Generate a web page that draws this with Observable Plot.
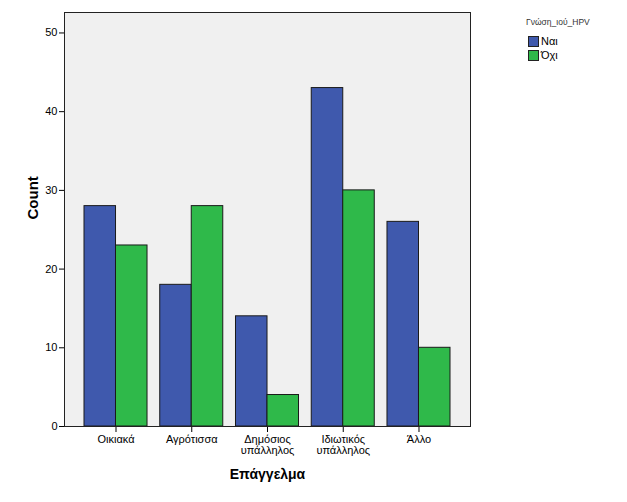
<!DOCTYPE html>
<html>
<head>
<meta charset="utf-8">
<script src="https://cdn.jsdelivr.net/npm/d3@7"></script>
<script src="https://cdn.jsdelivr.net/npm/@observablehq/plot@0.6"></script>
<style>
  body { margin: 0; background: #fff; font-family: "Liberation Sans", Arial, sans-serif; }
  #wrap { position: relative; width: 627px; height: 502px; }
  #legend { position: absolute; left: 527px; top: 17px; font-family: "Liberation Sans", Arial, sans-serif; }
  #legend .title { font-size: 8.5px; color: #333; margin-bottom: 7px; margin-left: -1px; }
  #legend .item { display: flex; align-items: center; font-size: 11px; color: #000; height: 14px; margin-left: 1px; }
  #legend .sw { width: 9px; height: 9px; border: 1px solid #222; margin-right: 2px; }
</style>
</head>
<body>
<div id="wrap"><div id="chart"></div><div id="legend"></div></div>
<script>
const categories = ["Οικιακά", "Αγρότισσα", "Δημόσιος\nυπάλληλος", "Ιδιωτικός\nυπάλληλος", "Άλλο"];
const series = ["Ναι", "Όχι"];
const valuesNai = [28, 18, 14, 43, 26];
const valuesOxi = [23, 28, 4, 30, 10];
const yTicks = [0, 10, 20, 30, 40, 50];
const colors = ["#3f59ad", "#2fb94a"];
const legendTitle = "Γνώση_ιού_HPV";
const xTitle = "Επάγγελμα";
const yTitle = "Count";

const data = [];
categories.forEach((c, i) => {
  data.push({cat: c, ans: series[0], count: valuesNai[i]});
  data.push({cat: c, ans: series[1], count: valuesOxi[i]});
});

const chart = Plot.plot({
  width: 627,
  height: 502,
  marginLeft: 64,
  marginRight: 157,
  marginTop: 12,
  marginBottom: 76,
  style: {fontFamily: "Liberation Sans, Arial, sans-serif", fontSize: "11px", background: "#fff", color: "#000"},
  x: {domain: categories, paddingInner: 0.168, paddingOuter: 0.264, round: false, label: null, tickSize: 6, tickPadding: 3},
  y: {domain: [0, 52.6], ticks: yTicks, tickSize: 5, tickPadding: 2, label: null},
  color: {domain: series, range: colors},
  marks: [
    Plot.frame({fill: "#f0f0f0", stroke: "#222"}),
    Plot.barY(data.filter(d => d.ans === series[0]), {x: "cat", y: "count", fill: "ans", stroke: "#1a1a1a", strokeWidth: 1, insetRight: 31.5}),
    Plot.barY(data.filter(d => d.ans === series[1]), {x: "cat", y: "count", fill: "ans", stroke: "#1a1a1a", strokeWidth: 1, insetLeft: 31.5}),
    Plot.frame({stroke: "#222"}),
    Plot.text([yTitle], {frameAnchor: "left", dx: -31, rotate: -90, fontSize: 15, fontWeight: "bold", text: d => d}),
    Plot.text([xTitle], {frameAnchor: "bottom", dy: 52, fontSize: 14, fontWeight: "bold", text: d => d})
  ]
});
document.getElementById("chart").appendChild(chart);

const legend = document.getElementById("legend");
legend.innerHTML = `<div class="title">${legendTitle}</div>` +
  series.map((s, i) => `<div class="item"><span class="sw" style="background:${colors[i]}"></span>${s}</div>`).join("");
</script>
</body>
</html>
